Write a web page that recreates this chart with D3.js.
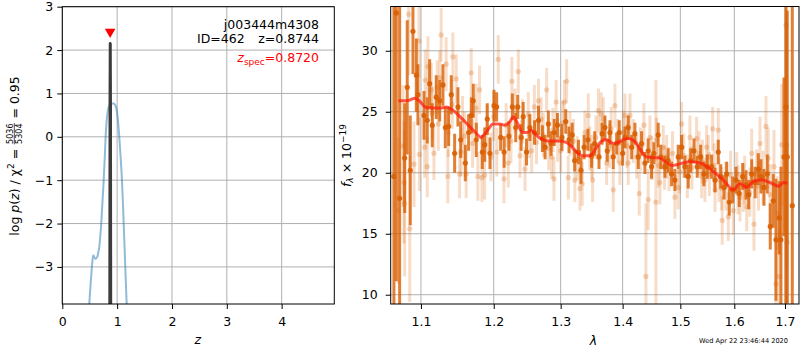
<!DOCTYPE html>
<html>
<head>
<meta charset="utf-8">
<script src="https://cdn.jsdelivr.net/npm/d3@7"></script>
<style>
  body { margin: 0; background: #fff; }
  svg { display: block; font-family: "DejaVu Sans", sans-serif; }
</style>
</head>
<body>
<svg id="fig" width="800" height="350"></svg>
<script>
// ---------- redshift probability panel ----------
const pzZ    = [0.49, 0.51, 0.53, 0.55, 0.565, 0.585, 0.60, 0.62, 0.64, 0.66, 0.675, 0.69, 0.71, 0.73, 0.755, 0.775, 0.79, 0.81, 0.83, 0.85, 0.875, 0.90, 0.93, 0.955, 0.978, 1.00, 1.015, 1.039, 1.065, 1.088, 1.105, 1.119, 1.14, 1.16, 1.175];
const pzLogp = [-3.9, -3.5, -3.16, -2.85, -2.73, -2.78, -2.81, -2.80, -2.76, -2.64, -2.54, -2.33, -2.0, -1.55, -1.0, -0.45, 0.0, 0.38, 0.6, 0.7, 0.75, 0.77, 0.77, 0.75, 0.69, 0.55, 0.38, 0.0, -0.5, -1.0, -1.5, -2.0, -2.7, -3.4, -3.9];
const peakZ    = [0.866, 0.8705, 0.8744, 0.8785, 0.883];
const peakLogp = [-4.5, 0.8, 2.15, 0.8, -4.5];
const zSpec = 0.8720, zSpecMarkerLogp = 2.42;
const zTicks    = [0, 1, 2, 3, 4];
const logpTicks = [-3, -2, -1, 0, 1, 2, 3];

// ---------- 1D spectrum panel ----------
const waveTicks = [1.1, 1.2, 1.3, 1.4, 1.5, 1.6, 1.7];
const fluxTicks = [10, 15, 20, 25, 30];

const darkWave = [1.0650,1.0680,1.0723,1.0788,1.0821,1.0860,1.0895,1.0939,1.0960,1.1040,1.1083,1.1115,1.1150,1.1203,1.1249,1.1293,1.1325,1.1370,1.1406,1.1452,1.1497,1.1535,1.1599,1.1645,1.1682,1.1710,1.1752,1.1837,1.1871,1.1908,1.1946,1.2004,
  1.2042,1.2100,1.2150,1.2220,1.2270,1.2320,1.2350,1.2400,1.2430,1.2480,1.2530,1.2600,1.2660,1.2720,1.2760,1.2810,1.2850,1.2900,1.2950,1.3020,1.3080,1.3130,1.3180,1.3220,1.3280,1.3320,1.3370,1.3430,1.3490,1.3540,1.3610,1.3660,
  1.3707,1.3745,1.3789,1.3844,1.3900,1.3943,1.4000,1.4039,1.4094,1.4152,1.4207,1.4264,1.4321,1.4378,1.4434,1.4493,1.4533,1.4608,1.4655,1.4726,1.4783,1.4844,1.4903,1.4962,1.5023,1.5082,1.5143,1.5186,1.5247,1.5306,1.5369,1.5429,1.5490,
  1.5572,1.5635,1.5696,1.5742,1.5805,1.5855,1.5905,1.5968,1.6032,1.6095,1.6161,1.6226,1.6278,1.6336,1.6400,1.6466,1.6519,1.6578,1.6643,1.6703,1.6763,1.6817,1.6884,1.6918,1.6979,1.7020,1.7046,1.7149];
const darkFlux = [19.7,33.1,17.9,21.2,27.0,20.2,31.6,28.0,26.4,24.7,24.3,27.3,23.9,26.2,25.9,27.2,23.7,23.8,26.4,21.6,25.4,22.7,20.8,23.3,24.7,25.9,22.7,21.7,22.3,24.4,21.6,25.5,
  25.4,22.9,21.7,23.0,25.4,23.7,25.4,22.9,24.6,21.7,23.7,23.3,24.3,22.8,22.1,24.0,22.4,23.3,23.9,22.9,24.2,22.7,23.1,21.0,21.7,20.2,22.1,22.7,21.4,22.4,21.3,23.2,
  23.7,21.8,23.3,21.3,22.4,23.3,21.6,22.9,23.7,22.1,23.2,21.3,22.4,20.8,21.8,20.5,21.6,23.1,21.3,20.5,21.0,19.9,19.4,21.3,22.1,20.5,19.7,21.0,21.8,20.5,21.3,19.9,20.5,
  20.5,19.4,21.7,19.7,18.8,19.9,17.6,18.6,19.4,18.3,19.7,19.0,18.2,19.9,19.2,20.3,19.7,18.8,19.9,15.6,17.7,14.5,16.3,14.5,21.3,25.4,21.3,17.3];
const darkErr = [22,22,16,4.5,5.5,4.5,3.5,3.0,2.5,2.0,1.9,2.0,1.8,1.8,1.7,1.7,1.7,1.6,1.6,1.6,1.6,1.5,1.5,1.5,1.5,1.4,1.4,1.4,1.4,1.3,1.3,1.3,
  1.2,1.1,1.3,1.2,1.1,1.2,1.0,1.1,1.2,1.1,1.1,1.0,1.2,1.1,1.0,1.1,1.0,1.1,1.0,1.1,1.0,1.1,1.0,0.9,1.0,1.1,1.0,0.9,1.0,1.0,1.0,0.9,
  1.0,0.9,1.0,1.0,0.9,1.0,1.0,0.9,1.0,1.0,0.9,1.0,1.0,0.9,1.0,1.0,0.9,1.0,1.0,0.9,1.0,1.0,0.9,1.0,1.0,0.9,1.0,1.0,1.0,0.9,1.0,1.0,1.0,
  1.0,1.0,1.0,1.0,1.0,1.0,1.1,1.1,1.1,1.1,1.1,1.2,1.2,1.2,1.3,1.3,1.4,1.5,1.6,1.9,2.2,5.0,3.0,6.0,6.5,20,12,20];

const lightWave = [1.0706,1.0766,1.0779,1.0788,1.0840,1.0853,1.0909,1.0974,1.0980,1.1049,1.1057,1.1083,1.1092,1.1136,1.1150,1.1172,1.1216,1.1230,1.1249,1.1269,1.1336,1.1359,1.1365,1.1420,1.1428,1.1474,1.1520,1.1541,1.1560,1.1589,1.1611,1.1681,1.1700,1.1752,1.1775,1.1799,1.1832,1.1870,1.1900,1.1961,
  1.2000,1.2044,1.2065,1.2148,1.2180,1.2211,1.2250,1.2263,1.2308,1.2358,1.2383,1.2420,1.2457,1.2506,1.2520,1.2557,1.2597,1.2630,1.2660,1.2700,1.2733,1.2784,1.2815,1.2860,1.2880,1.2896,1.2930,1.2954,
  1.3000,1.3030,1.3057,1.3093,1.3119,1.3145,1.3200,1.3223,1.3260,1.3303,1.3340,1.3383,1.3436,1.3460,1.3490,1.3506,1.3560,1.3600,1.3645,1.3680,1.3734,1.3780,1.3810,1.3844,1.3872,1.3920,1.3955,
  1.4010,1.4039,1.4070,1.4094,1.4123,1.4180,1.4238,1.4281,1.4300,1.4361,1.4395,1.4434,1.4464,1.4500,1.4568,1.4580,1.4610,1.4638,1.4697,1.4720,1.4756,1.4800,1.4860,1.4903,1.4962,1.4990,
  1.5023,1.5060,1.5126,1.5174,1.5210,1.5295,1.5340,1.5388,1.5400,1.5449,1.5479,1.5510,1.5530,1.5591,1.5620,1.5635,1.5696,1.5710,1.5760,1.5770,1.5840,1.5886,1.5930,1.5981,
  1.6046,1.6070,1.6110,1.6173,1.6200,1.6239,1.6300,1.6336,1.6380,1.6433,1.6470,1.6499,1.6560,1.6618,1.6663,1.6700,1.6778,1.6817,1.6843,1.6884,1.6933,1.7020,1.7033,1.7046];
const lightFlux = [16.9,22.2,19.2,17.5,33.0,15.4,20.7,30.8,21.5,22.1,27.6,20.5,28.7,26.8,24.9,21.6,27.0,24.0,27.8,31.3,28.9,19.7,23.3,25.6,29.5,27.7,19.9,21.7,24.3,23.0,19.9,28.2,22.4,25.3,19.7,26.8,19.6,19.8,23.6,21.3,
  24.6,21.7,29.3,19.5,23.9,20.8,22.6,27.5,25.1,28.3,21.4,24.2,20.3,24.8,23.0,21.8,25.4,22.5,25.9,24.4,23.1,26.8,22.0,21.3,23.5,19.5,25.8,22.7,
  21.8,24.1,25.8,27.5,19.6,23.2,22.6,19.4,21.2,18.7,19.1,23.3,24.7,22.0,21.3,19.4,22.9,25.1,24.8,24.4,20.8,22.2,23.6,18.6,25.5,22.6,20.8,
  23.3,24.7,22.2,20.8,24.7,22.6,21.3,18.3,21.9,23.9,11.5,17.8,22.9,21.2,17.6,22.7,20.6,19.2,22.1,20.4,21.3,20.3,21.6,18.0,18.8,20.1,
  24.0,21.4,19.7,22.9,20.4,22.8,21.6,19.7,20.9,19.4,22.1,21.3,19.9,23.6,20.6,18.6,23.5,19.4,18.7,16.1,18.9,16.4,19.8,16.9,
  19.9,18.6,18.0,18.8,19.4,17.2,18.4,21.6,15.8,19.9,18.9,22.4,19.6,23.8,21.2,18.2,20.5,10.9,16.7,11.5,22.3,32.1,22.3,14.3];
const lightErr = [6,5,5,6,5,6,3.5,3,3,2.5,2.5,2.5,2.5,2.2,2.2,2.2,2.2,2.2,2.2,2.2,2.2,2.2,2.0,2.0,2.0,2.0,2.0,2.0,2.0,2.0,2.0,2.0,2.0,2.0,2.0,2.0,2.0,2.0,2.0,2.0,
  2.0,2.0,2.0,2.0,1.8,2.0,1.8,2.0,1.8,1.8,1.8,1.8,1.8,1.8,1.8,1.8,1.8,1.8,1.8,1.8,1.8,1.8,1.8,1.8,1.8,1.8,1.8,1.8,
  1.8,1.8,1.8,1.8,1.8,1.8,1.8,1.8,1.8,1.8,1.8,1.8,1.8,1.8,1.8,1.8,1.8,1.8,1.8,1.8,1.8,1.8,1.8,1.8,1.8,1.8,1.8,
  1.8,1.8,1.8,1.8,1.8,1.8,1.8,1.8,1.8,1.8,6,2.5,1.8,1.8,10,1.8,1.8,1.8,1.8,1.8,1.8,1.8,1.8,1.8,1.8,1.8,
  1.8,1.8,1.8,1.8,1.8,1.8,1.8,1.8,1.8,1.8,1.8,1.8,1.8,1.8,1.8,1.8,1.8,1.8,1.8,2.0,2.0,2.0,2.0,2.0,
  1.8,2.0,2.0,2.0,2.0,2.0,2.0,2.0,2.2,2.0,2.0,2.2,2.2,2.5,2.5,2.5,3,4,3,4,5,8,10,8];

const modelWave = [1.0706,1.0813,1.0922,1.0978,1.1053,1.1119,1.1253,1.1343,1.1411,1.1525,1.1640,1.1758,1.1814,1.1889,1.1994,1.2090,1.2163,1.2235,1.2284,1.2334,1.2423,1.2482,1.2546,1.2607,1.2692,1.2809,1.2989,1.3119,1.3251,1.3346,1.3464,1.3572,1.3654,1.3734,1.3844,1.4094,1.4200,1.4300,1.4406,1.4638,1.4844,1.5174,1.5357,1.5604,1.5791,1.5981,1.6110,1.6239,1.6367,1.6532,1.6698,1.6864,1.6979,1.7046];
const modelFlux = [25.9,25.9,26.1,25.9,25.4,25.3,25.3,25.4,25.2,24.6,23.9,23.2,22.9,23.3,24.0,24.0,23.9,24.2,24.6,24.2,23.3,23.3,23.5,23.2,22.8,22.6,22.6,22.4,21.7,21.4,21.4,22.1,22.6,22.7,22.4,22.8,22.6,21.9,21.3,21.2,20.6,20.9,20.8,20.1,19.4,18.6,19.1,18.8,19.3,19.4,19.2,18.9,19.2,19.1];

// ---------- layout ----------
const svg = d3.select('#fig');
const FONT = 12.5;
const L = { x0: 62.3, x1: 334.3, y0: 6.7, y1: 304 };
const R = { x0: 390.7, x1: 799, y0: 6.5, y1: 304 };

const zx = d3.scaleLinear().domain([0, 4.96]).range([L.x0, L.x1]);
const zy = d3.scaleLinear().domain([-3.855, 3.0]).range([L.y1, L.y0]);
const wx = d3.scaleLog().domain([1.0609, 1.7287]).range([R.x0, R.x1]);
const fy = d3.scaleLinear().domain([9.24, 33.63]).range([R.y1, R.y0]);

const defs = svg.append('defs');
defs.append('clipPath').attr('id', 'clipL').append('rect')
  .attr('x', L.x0).attr('y', L.y0).attr('width', L.x1 - L.x0).attr('height', L.y1 - L.y0);
defs.append('clipPath').attr('id', 'clipR').append('rect')
  .attr('x', R.x0).attr('y', R.y0).attr('width', R.x1 - R.x0).attr('height', R.y1 - R.y0);

// grid lines
function grid(P, xs, ys, xTicks, yTicks) {
  const g = svg.append('g').attr('stroke', '#b0b0b0').attr('stroke-width', 1);
  g.selectAll('.gx').data(xTicks).join('line')
    .attr('x1', d => xs(d)).attr('x2', d => xs(d)).attr('y1', P.y0).attr('y2', P.y1);
  g.selectAll('.gy').data(yTicks).join('line')
    .attr('x1', P.x0).attr('x2', P.x1).attr('y1', d => ys(d)).attr('y2', d => ys(d));
}
grid(L, zx, zy, zTicks, logpTicks);
grid(R, wx, fy, waveTicks, fluxTicks);

// ---------- left panel marks ----------
const gL = svg.append('g').attr('clip-path', 'url(#clipL)');
gL.append('path')
  .attr('d', d3.line().x(i => zx(pzZ[i])).y(i => zy(pzLogp[i])).curve(d3.curveMonotoneX)(d3.range(pzZ.length)))
  .attr('fill', 'none').attr('stroke', '#1f77b4').attr('stroke-opacity', 0.5).attr('stroke-width', 2);
gL.append('path')
  .attr('d', d3.line().x(i => zx(peakZ[i])).y(i => zy(peakLogp[i]))(d3.range(peakZ.length)))
  .attr('fill', '#3c3c3c').attr('stroke', '#3c3c3c').attr('stroke-width', 3).attr('stroke-linejoin', 'round');
svg.append('path')
  .attr('d', d3.symbol().type(d3.symbolTriangle).size(48)())
  .attr('transform', `translate(${zx(zSpec)},${zy(zSpecMarkerLogp)}) rotate(180)`)
  .attr('fill', 'red');

// ---------- right panel marks ----------
const C = '#d95f02';
const gR = svg.append('g').attr('clip-path', 'url(#clipR)');
const li = d3.range(lightWave.length);
gR.append('g').selectAll('line').data(li).join('line')
  .attr('x1', i => wx(lightWave[i])).attr('x2', i => wx(lightWave[i]))
  .attr('y1', i => fy(lightFlux[i] - lightErr[i])).attr('y2', i => fy(lightFlux[i] + lightErr[i]))
  .attr('stroke', C).attr('stroke-opacity', 0.22).attr('stroke-width', 3);
gR.append('g').selectAll('circle').data(li).join('circle')
  .attr('cx', i => wx(lightWave[i])).attr('cy', i => fy(lightFlux[i])).attr('r', 2.6)
  .attr('fill', C).attr('fill-opacity', 0.25);
const di = d3.range(darkWave.length);
gR.append('g').selectAll('line').data(di).join('line')
  .attr('x1', i => wx(darkWave[i])).attr('x2', i => wx(darkWave[i]))
  .attr('y1', i => fy(darkFlux[i] - darkErr[i])).attr('y2', i => fy(darkFlux[i] + darkErr[i]))
  .attr('stroke', C).attr('stroke-opacity', 0.8).attr('stroke-width', 3);
gR.append('g').selectAll('circle').data(di).join('circle')
  .attr('cx', i => wx(darkWave[i])).attr('cy', i => fy(darkFlux[i])).attr('r', 2.6)
  .attr('fill', C).attr('fill-opacity', 0.9);
gR.append('path')
  .attr('d', d3.line().x(i => wx(modelWave[i])).y(i => fy(modelFlux[i])).curve(d3.curveMonotoneX)(d3.range(modelWave.length)))
  .attr('fill', 'none').attr('stroke', '#ff1a0a').attr('stroke-opacity', 0.72).attr('stroke-width', 3);

// ---------- axes ----------
function styleAxis(g) {
  g.select('.domain').remove();
  g.selectAll('line').attr('stroke', '#000').attr('stroke-width', 1);
  g.selectAll('text').attr('font-size', FONT).attr('font-family', '"DejaVu Sans", sans-serif').attr('fill', '#000');
}
const fmtNum = d3.format('');
svg.append('g').attr('transform', `translate(0,${L.y1})`)
  .call(d3.axisBottom(zx).tickValues(zTicks).tickSize(5).tickFormat(fmtNum))
  .call(styleAxis).call(g => g.selectAll('text').attr('y', 22).attr('dy', null));
svg.append('g').attr('transform', `translate(${L.x0},0)`)
  .call(d3.axisLeft(zy).tickValues(logpTicks).tickSize(5).tickPadding(4).tickFormat(fmtNum))
  .call(styleAxis);
svg.append('g').attr('transform', `translate(0,${R.y1})`)
  .call(d3.axisBottom(wx).tickValues(waveTicks).tickSize(5).tickFormat(d3.format('.1f')))
  .call(styleAxis).call(g => g.selectAll('text').attr('y', 22).attr('dy', null));
svg.append('g').attr('transform', `translate(${R.x0},0)`)
  .call(d3.axisLeft(fy).tickValues(fluxTicks).tickSize(5).tickPadding(8).tickFormat(fmtNum))
  .call(styleAxis);

// frames
[L, R].forEach(P => svg.append('rect')
  .attr('x', P.x0).attr('y', P.y0).attr('width', P.x1 - P.x0).attr('height', P.y1 - P.y0)
  .attr('fill', 'none').attr('stroke', '#000').attr('stroke-width', 1));

// ---------- labels ----------
svg.append('text').attr('x', zx(2.47)).attr('y', 343.5).attr('text-anchor', 'middle')
  .attr('font-size', FONT).attr('font-style', 'italic').text('z');
svg.append('text').attr('x', 593.5).attr('y', 345).attr('text-anchor', 'middle')
  .attr('font-size', FONT).attr('font-style', 'italic').text('λ');

// log p(z) / χ² = 5036/5304 = 0.95
const yl = svg.append('g').attr('transform', 'translate(18.5,156) rotate(-90)').attr('font-size', FONT);
const t1 = yl.append('text');
t1.append('tspan').text('log ');
t1.append('tspan').attr('font-style', 'italic').text('p');
t1.append('tspan').text('(');
t1.append('tspan').attr('font-style', 'italic').text('z');
t1.append('tspan').text(') / χ');
t1.append('tspan').attr('font-size', 9).attr('dy', -5).text('2');
t1.append('tspan').attr('dy', 5).text('\u00a0=\u00a0');
const num = yl.append('text').attr('font-size', 8).attr('text-anchor', 'middle').text('5036');
const den = yl.append('text').attr('font-size', 8).attr('text-anchor', 'middle').text('5304');
const t3 = yl.append('text').text('\u00a0=\u00a00.95');
const w1 = t1.node().getComputedTextLength();
const wf = Math.max(num.node().getComputedTextLength(), den.node().getComputedTextLength()) + 2;
const w3 = t3.node().getComputedTextLength();
const x0 = -(w1 + wf + w3) / 2;
t1.attr('x', x0);
num.attr('x', x0 + w1 + wf / 2).attr('y', -5.6);
den.attr('x', x0 + w1 + wf / 2).attr('y', 3.2);
yl.append('line').attr('x1', x0 + w1 + 0.5).attr('x2', x0 + w1 + wf - 0.5)
  .attr('y1', -4.2).attr('y2', -4.2).attr('stroke', '#000').attr('stroke-width', 0.7);
t3.attr('x', x0 + w1 + wf);

// f_λ × 10^-19
const rl = svg.append('text').attr('transform', 'translate(350.5,155.5) rotate(-90)')
  .attr('text-anchor', 'middle').attr('font-size', FONT);
rl.append('tspan').attr('font-style', 'italic').text('f');
rl.append('tspan').attr('font-style', 'italic').attr('font-size', 9).attr('dy', 2.5).text('λ');
rl.append('tspan').attr('dy', -2.5).text('\u00a0×\u00a010');
rl.append('tspan').attr('font-size', 9).attr('dy', -5).text('−19');

// annotations
const ann = svg.append('g').attr('font-size', FONT);
ann.append('text').attr('x', 319).attr('y', 28.5).attr('text-anchor', 'end').text('j003444m4308');
ann.append('text').attr('x', 197).attr('y', 43).text('ID=462');
ann.append('text').attr('x', 319).attr('y', 43).attr('text-anchor', 'end').text('z=0.8744');
const zs = ann.append('text').attr('x', 319).attr('y', 62).attr('text-anchor', 'end').attr('fill', 'red');
zs.append('tspan').attr('font-style', 'italic').text('z');
zs.append('tspan').attr('font-size', 9).attr('dy', 2.5).text('spec');
zs.append('tspan').attr('dy', -2.5).text('=0.8720');

svg.append('text').attr('x', 788).attr('y', 342.5).attr('text-anchor', 'end')
  .attr('font-size', 6.6).text('Wed Apr 22 23:46:44 2020');
</script>
</body>
</html>
